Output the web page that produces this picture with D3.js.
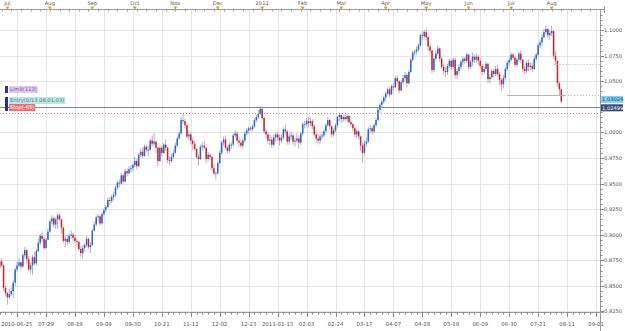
<!DOCTYPE html>
<html>
<head>
<meta charset="utf-8">
<script src="https://cdn.jsdelivr.net/npm/d3@7"></script>
<style>
  body { margin: 0; background: #fff; }
  text { font-family: "DejaVu Sans", sans-serif; }
</style>
</head>
<body>
<svg id="chart" width="625" height="331"></svg>
<script>
// AUD/USD style daily candles, prices in pips (1/10000)
const startDate = "2010-06-25";
const firstOpen = 8680;

const closes = [
  8740,
  8700, 8480, 8430, 8390, 8420,
  8450, 8530, 8660, 8700, 8730,
  8690, 8800, 8850, 8760, 8660,
  8700, 8780, 8720, 8840, 8920,
  8990, 8960, 8870, 8950, 9030,
  9130, 9160, 9100, 9150, 9190,
  9150, 9070, 8940, 8960, 8930,
  8990, 9000, 8970, 8940, 8930,
  8860, 8820, 8870, 8900, 8960,
  8880, 8900, 9040, 9100, 9170,
  9180, 9110, 9200, 9240, 9270,
  9340, 9330, 9370, 9390, 9460,
  9510, 9500, 9580, 9520, 9620,
  9600, 9640, 9650, 9680, 9720,
  9670, 9780, 9810, 9770, 9860,
  9830, 9830, 9920, 9890, 9910,
  9850, 9720, 9850, 9800, 9880,
  9850, 9730, 9720, 9760, 9800,
  9870, 9940, 9990, 10120, 10110,
  10070, 9960, 9980, 9920, 9890,
  9840, 9760, 9740, 9860, 9870,
  9850, 9740, 9780, 9760, 9650,
  9600, 9600, 9700, 9800, 9900,
  9930, 9850, 9820, 9880, 9880,
  9970, 9990, 9920, 9900, 9870,
  9920, 9990, 10020, 10040, 10030,
  10060, 10120, 10150, 10180, 10230,
  10140, 10010, 9980, 9920, 9930,
  9880, 9950, 9980, 9950, 9920,
  9950, 10030, 10010, 9910, 9960,
  9970, 9910, 9920, 9940, 9900,
  9990, 10080, 10080, 10110, 10090,
  10110, 10060, 9980, 9940, 9920,
  9960, 9970, 10010, 10070, 10120,
  10060, 9980, 10020, 10070, 10150,
  10170, 10130, 10150, 10130, 10160,
  10100, 10080, 10040, 9980, 10010,
  9960, 9870, 9800, 9890, 9910,
  10030, 10040, 10010, 10070, 10120,
  10220, 10270, 10300, 10340, 10380,
  10420, 10370, 10450, 10440, 10530,
  10500, 10410, 10490, 10530, 10560,
  10480, 10590, 10710, 10780, 10790,
  10810, 10850, 10950, 10940, 10980,
  10930, 10840, 10800, 10610, 10720,
  10770, 10820, 10720, 10640, 10600,
  10590, 10650, 10700, 10640, 10710,
  10560, 10600, 10640, 10690, 10720,
  10700, 10760, 10640, 10690, 10740,
  10710, 10740, 10700, 10650, 10590,
  10620, 10670, 10520, 10540, 10600,
  10570, 10620, 10570, 10510, 10470,
  10530, 10620, 10680, 10710, 10760,
  10730, 10660, 10710, 10770, 10710,
  10620, 10600, 10680, 10640, 10650,
  10620, 10720, 10760, 10850, 10880,
  10930, 10980, 11010, 10950, 10970,
  10990, 10750, 10700, 10480, 10420,
  10303
];

const highs = [
  8770,
  8770, 8710, 8500, 8440, 8470,
  8480, 8560, 8680, 8740, 8770,
  8740, 8820, 8880, 8860, 8790,
  8730, 8800, 8830, 8860, 8960,
  9010, 9030, 8980, 8970, 9060,
  9150, 9190, 9180, 9170, 9215,
  9210, 9160, 9080, 8990, 9000,
  9010, 9040, 9020, 9000, 8960,
  8940, 8890, 8900, 8920, 8990,
  8970, 8930, 9060, 9130, 9190,
  9200, 9190, 9220, 9260, 9290,
  9360, 9370, 9390, 9420, 9480,
  9530, 9540, 9600, 9600, 9640,
  9650, 9670, 9680, 9700, 9760,
  9740, 9800, 9840, 9850, 9880,
  9880, 9870, 9940, 9970, 9993,
  9920, 9860, 9870, 9870, 9900,
  9930, 9860, 9770, 9790, 9830,
  9900, 9960, 10010, 10150, 10181,
  10130, 10080, 10020, 10000, 9950,
  9910, 9850, 9790, 9880, 9900,
  9920, 9860, 9810, 9800, 9770,
  9690, 9620, 9720, 9820, 9920,
  9960, 9970, 9870, 9900, 9910,
  9990, 10020, 10010, 9950, 9930,
  9940, 10010, 10040, 10060, 10060,
  10080, 10140, 10170, 10220, 10255,
  10250, 10150, 10030, 10000, 9980,
  9960, 9980, 10000, 10010, 9980,
  9980, 10050, 10080, 10020, 9990,
  10010, 9990, 9950, 9990, 9970,
  10000, 10100, 10110, 10140, 10150,
  10140, 10130, 10080, 10010, 9980,
  9990, 10010, 10030, 10090, 10150,
  10130, 10070, 10040, 10090, 10160,
  10190, 10190, 10170, 10190, 10180,
  10170, 10120, 10090, 10060, 10030,
  10020, 9970, 9900, 9920, 9950,
  10050, 10070, 10060, 10090, 10140,
  10240, 10290, 10320, 10360, 10400,
  10440, 10440, 10470, 10480, 10550,
  10560, 10510, 10510, 10560, 10590,
  10580, 10610, 10730, 10800, 10810,
  10840, 10870, 10970, 10990, 11000,
  11012, 10950, 10870, 10810, 10750,
  10800, 10850, 10830, 10740, 10670,
  10640, 10670, 10720, 10710, 10730,
  10730, 10620, 10670, 10710, 10740,
  10740, 10780, 10770, 10710, 10780,
  10760, 10770, 10760, 10730, 10670,
  10650, 10690, 10680, 10570, 10620,
  10620, 10650, 10660, 10590, 10530,
  10560, 10640, 10700, 10730, 10780,
  10780, 10750, 10730, 10790, 10800,
  10720, 10650, 10700, 10710, 10680,
  10680, 10740, 10780, 10870, 10900,
  10960, 11010, 11040, 11020, 11000,
  11040, 11000, 10800, 10700, 10500,
  10440
];

const lows = [
  8670,
  8680, 8450, 8400, 8316, 8370,
  8400, 8380, 8500, 8640, 8680,
  8660, 8680, 8770, 8720, 8640,
  8620, 8610, 8700, 8700, 8830,
  8900, 8930, 8850, 8860, 8950,
  9020, 9100, 9070, 9060, 9060,
  9130, 9010, 8920, 8880, 8900,
  8910, 8960, 8940, 8920, 8880,
  8840, 8780, 8771, 8840, 8880,
  8860, 8820, 8890, 9030, 9090,
  9130, 9090, 9100, 9180, 9220,
  9260, 9290, 9310, 9340, 9370,
  9440, 9460, 9490, 9500, 9510,
  9570, 9590, 9610, 9620, 9660,
  9640, 9660, 9760, 9750, 9760,
  9810, 9770, 9820, 9860, 9870,
  9800, 9670, 9710, 9770, 9790,
  9820, 9700, 9680, 9700, 9740,
  9790, 9850, 9930, 9980, 10080,
  10040, 9940, 9920, 9880, 9830,
  9820, 9740, 9670, 9730, 9820,
  9830, 9700, 9720, 9730, 9620,
  9580, 9540, 9590, 9690, 9780,
  9870, 9830, 9790, 9800, 9840,
  9870, 9950, 9890, 9860, 9850,
  9840, 9900, 9970, 9990, 10010,
  10010, 10040, 10100, 10130, 10170,
  10120, 9990, 9940, 9890, 9870,
  9850, 9860, 9910, 9920, 9870,
  9900, 9930, 9980, 9880, 9880,
  9930, 9880, 9860, 9900, 9840,
  9880, 9970, 10040, 10060, 10050,
  10060, 10030, 9960, 9900, 9880,
  9890, 9930, 9950, 9990, 10060,
  10030, 9950, 9960, 10000, 10050,
  10110, 10090, 10100, 10110, 10100,
  10080, 10050, 10010, 9950, 9940,
  9930, 9820, 9706, 9780, 9860,
  9900, 9990, 9980, 9990, 10050,
  10110, 10190, 10240, 10280, 10310,
  10360, 10340, 10370, 10400, 10430,
  10470, 10380, 10400, 10470, 10500,
  10440, 10470, 10580, 10690, 10750,
  10760, 10790, 10840, 10900, 10920,
  10900, 10800, 10760, 10580, 10590,
  10700, 10750, 10690, 10620, 10570,
  10540, 10560, 10630, 10610, 10620,
  10530, 10520, 10570, 10610, 10660,
  10670, 10680, 10610, 10620, 10650,
  10680, 10680, 10660, 10620, 10560,
  10570, 10600, 10480, 10480, 10520,
  10530, 10550, 10540, 10460, 10400,
  10430, 10510, 10600, 10650, 10690,
  10710, 10640, 10640, 10690, 10680,
  10590, 10570, 10580, 10600, 10610,
  10590, 10610, 10700, 10740, 10820,
  10850, 10920, 10960, 10920, 10900,
  10940, 10720, 10660, 10450, 10360,
  10280
];

const monthLabels = ["Jul", "Aug", "Sep", "Oct", "Nov", "Dec", "2011", "Feb", "Mar", "Apr", "May", "Jun", "Jul", "Aug"];
const dateLabels = ["2010-06-25", "07-29", "08-19", "09-09", "09-30", "10-21", "11-11", "12-02", "12-23",
  "2011-01-13", "02-03", "02-24", "03-17", "04-07", "04-28", "05-19", "06-09", "06-30", "07-21", "08-11", "09-01"];
const priceTicks = [0.825, 0.85, 0.875, 0.9, 0.925, 0.95, 0.975, 1.0, 1.025, 1.05, 1.075, 1.1];

// order lines
const entryPrice = 1.02499;
const bidPrice = 1.03026;
const stopPrice = 1.0185;
const limitPrice = 1.0363;
const rangeHigh = 1.0667;
const orderTags = [
  {text: "Limit(113)", fill: "#dccbee", color: "#7d58a8", row: 0},
  {text: "Entry(0/13 08.01.03)", fill: "#bfe6e6", color: "#3f7f86", row: 1},
  {text: "Stop(-65)", fill: "#ec6f6f", color: "#fff", row: 2}
];

const W = 625, H = 331;
const plot = {left: 0, right: 600, top: 10, bottom: 312};
const nSlots = 312;

const svg = d3.select("#chart");

// trading day dates (weekdays)
let dates = [];
let d = new Date(startDate + "T00:00:00");
while (dates.length < nSlots) {
  if (d.getDay() !== 0 && d.getDay() !== 6) dates.push(new Date(d));
  d = d3.timeDay.offset(d, 1);
}

let candles = closes.map(function(c, i) {
  return {
    i: i,
    open: (i === 0 ? firstOpen : closes[i - 1]) / 10000,
    close: c / 10000,
    high: highs[i] / 10000,
    low: lows[i] / 10000
  };
});

let x = d3.scaleLinear().domain([0, 311]).range([-0.3, 599.9]);
let y = d3.scaleLinear().domain([0.8245, 1.1196]).range([plot.bottom, plot.top]);

// grid
let grid = svg.append("g").attr("class", "grid");
let gridIdx = dateLabels.map(function(t, k) { return 9 + 15 * k; });
grid.selectAll(".vg").data(gridIdx).enter().append("line")
  .attr("x1", function(i) { return Math.round(x(i)) + 0.5; })
  .attr("x2", function(i) { return Math.round(x(i)) + 0.5; })
  .attr("y1", plot.top).attr("y2", plot.bottom)
  .attr("stroke", "#e4e4e4");
grid.selectAll(".hg").data(priceTicks).enter().append("line")
  .attr("x1", plot.left).attr("x2", plot.right)
  .attr("y1", function(p) { return Math.round(y(p)) + 0.5; })
  .attr("y2", function(p) { return Math.round(y(p)) + 0.5; })
  .attr("stroke", "#e4e4e4");

// candles
let up = "#2f63c6", down = "#c2262c";
let cg = svg.append("g").attr("class", "candles");
let items = cg.selectAll(".candle").data(candles).enter().append("g").attr("class", "candle");
items.append("line")
  .attr("x1", function(c) { return x(c.i); })
  .attr("x2", function(c) { return x(c.i); })
  .attr("y1", function(c) { return y(c.high); })
  .attr("y2", function(c) { return y(c.low); })
  .attr("stroke", function(c) { return c.close >= c.open ? "#7c9de0" : "#e08a90"; })
  .attr("stroke-width", 0.8);
items.append("rect")
  .attr("x", function(c) { return x(c.i) - 0.75; })
  .attr("width", 1.5)
  .attr("y", function(c) { return y(Math.max(c.open, c.close)); })
  .attr("height", function(c) { return Math.max(0.8, Math.abs(y(c.open) - y(c.close))); })
  .attr("fill", function(c) { return c.close >= c.open ? up : down; });

// order / level lines
let lv = svg.append("g").attr("class", "levels");
lv.append("line").attr("x1", plot.left).attr("x2", plot.right)
  .attr("y1", Math.round(y(entryPrice)) + 0.5).attr("y2", Math.round(y(entryPrice)) + 0.5)
  .attr("stroke", "#7f88a2");
lv.append("line").attr("x1", plot.left).attr("x2", plot.right)
  .attr("y1", Math.round(y(stopPrice)) + 0.5).attr("y2", Math.round(y(stopPrice)) + 0.5)
  .attr("stroke", "#e07a7a").attr("stroke-dasharray", "1,2");
lv.append("line").attr("x1", x(263)).attr("x2", x(293))
  .attr("y1", Math.round(y(limitPrice)) + 0.5).attr("y2", Math.round(y(limitPrice)) + 0.5)
  .attr("stroke", "#b4b4b4");
lv.append("line").attr("x1", x(293)).attr("x2", plot.right)
  .attr("y1", Math.round(y(limitPrice)) + 0.5).attr("y2", Math.round(y(limitPrice)) + 0.5)
  .attr("stroke", "#b4b4b4").attr("stroke-dasharray", "1,2");
lv.append("line").attr("x1", x(287)).attr("x2", plot.right)
  .attr("y1", Math.round(y(rangeHigh)) + 0.5).attr("y2", Math.round(y(rangeHigh)) + 0.5)
  .attr("stroke", "#b4b4b4").attr("stroke-dasharray", "1,2");

// order tags on the left
let tags = svg.append("g").attr("class", "tags");
tags.append("rect").attr("x", 5).attr("y", 86).attr("width", 3).attr("height", 7).attr("fill", "#2c2f8f");
tags.append("rect").attr("x", 5).attr("y", 97).attr("width", 3).attr("height", 14).attr("fill", "#2c2f8f");
let tagRows = [86, 97, 104];
let tag = tags.selectAll(".tag").data(orderTags).enter().append("g").attr("class", "tag");
tag.append("rect")
  .attr("x", 9).attr("y", function(t) { return tagRows[t.row]; })
  .attr("height", 7)
  .attr("fill", function(t) { return t.fill; });
tag.append("text")
  .attr("x", 10).attr("y", function(t) { return tagRows[t.row] + 5.3; })
  .attr("font-size", 5.2)
  .attr("fill", function(t) { return t.color; })
  .text(function(t) { return t.text; });
tag.each(function() {
  let g = d3.select(this);
  let w = g.select("text").node().getComputedTextLength();
  g.select("rect").attr("width", w + 2);
});

// top axis (months)
let topAxis = svg.append("g").attr("class", "top-axis");
topAxis.append("line").attr("x1", 0).attr("x2", 604).attr("y1", 9.5).attr("y2", 9.5).attr("stroke", "#9a9a9a");
topAxis.append("line").attr("x1", 604.5).attr("x2", 604.5).attr("y1", 6).attr("y2", 13).attr("stroke", "#9a9a9a");
let mondays = dates.map(function(dt, i) { return {dt: dt, i: i}; }).filter(function(o) { return o.dt.getDay() === 1; });
topAxis.selectAll(".wk").data(mondays).enter().append("line")
  .attr("x1", function(o) { return Math.round(x(o.i)) + 0.5; })
  .attr("x2", function(o) { return Math.round(x(o.i)) + 0.5; })
  .attr("y1", 9.5).attr("y2", 11.5).attr("stroke", "#9a9a9a");
let monthStarts = [];
dates.forEach(function(dt, i) {
  if (i === 0) return;
  if (dt.getMonth() !== dates[i - 1].getMonth()) monthStarts.push(i);
});
monthStarts = monthStarts.slice(0, monthLabels.length);
let mm = topAxis.selectAll(".month").data(monthStarts).enter().append("g").attr("class", "month");
mm.append("path")
  .attr("d", function(i) { let cx = x(i); return "M" + (cx - 2) + ",6.5L" + (cx + 2) + ",6.5L" + cx + ",10Z"; })
  .attr("fill", "#e3a21a");
mm.append("text")
  .attr("x", function(i) { return x(i); }).attr("y", 5)
  .attr("text-anchor", "middle").attr("font-size", 5.2).attr("fill", "#555")
  .text(function(i, k) { return monthLabels[k]; });

// bottom axis (dates)
let bot = svg.append("g").attr("class", "bottom-axis");
bot.append("line").attr("x1", 0).attr("x2", 604).attr("y1", plot.bottom + 0.5).attr("y2", plot.bottom + 0.5).attr("stroke", "#9a9a9a");
let minor = d3.range(0, nSlots, 3);
bot.selectAll(".mt").data(minor).enter().append("line")
  .attr("x1", function(i) { return Math.round(x(i)) + 0.5; })
  .attr("x2", function(i) { return Math.round(x(i)) + 0.5; })
  .attr("y1", plot.bottom).attr("y2", function(i) { return (i - 9) % 15 === 0 ? plot.bottom + 5 : plot.bottom + 2.5; })
  .attr("stroke", "#8a8a8a");
bot.selectAll(".dl").data(dateLabels).enter().append("text")
  .attr("x", function(t, k) { return k === 0 ? 1 : x(gridIdx[k]); })
  .attr("y", 326)
  .attr("text-anchor", function(t, k) { return k === 0 ? "start" : "middle"; })
  .attr("font-size", 5.4).attr("fill", "#555")
  .text(function(t) { return t; });

// right axis (prices)
let ra = svg.append("g").attr("class", "right-axis");
ra.append("line").attr("x1", plot.right + 0.5).attr("x2", plot.right + 0.5).attr("y1", plot.top).attr("y2", H).attr("stroke", "#9a9a9a");
let minorP = d3.range(0, 60).map(function(k) { return 0.825 + k * 0.005; }).filter(function(p) { return y(p) > plot.top; });
ra.selectAll(".pt").data(minorP).enter().append("line")
  .attr("x1", plot.right).attr("x2", function(p, k) { return k % 5 === 0 ? plot.right + 4 : plot.right + 2.5; })
  .attr("y1", function(p) { return Math.round(y(p)) + 0.5; })
  .attr("y2", function(p) { return Math.round(y(p)) + 0.5; })
  .attr("stroke", "#8a8a8a");

// current price boxes, nudged apart so they stack like the reference
let boxes = [
  {p: bidPrice, shift: -2, fill: "#84d2f2", color: "#1c3d6b"},
  {p: entryPrice, shift: 1, fill: "#3c4872", color: "#fff"}
];

// tick labels hidden where a price box sits on them
let fmt = function(p) { return p.toFixed(4).replace(".", ","); };
let labelTicks = priceTicks.filter(function(p) {
  return boxes.every(function(b) { return Math.abs(y(p) - (y(b.p) + b.shift)) > 6; });
});
ra.selectAll(".pl").data(labelTicks).enter().append("text")
  .attr("x", plot.right + 4).attr("y", function(p) { return y(p) + 2; })
  .attr("font-size", 5.2).attr("fill", "#555")
  .text(fmt);

let bx = ra.selectAll(".pbox").data(boxes).enter().append("g");
bx.append("rect")
  .attr("x", plot.right + 1).attr("y", function(b) { return y(b.p) + b.shift - 3.5; })
  .attr("width", 22).attr("height", 7)
  .attr("fill", function(b) { return b.fill; });
bx.append("text")
  .attr("x", plot.right + 2).attr("y", function(b) { return y(b.p) + b.shift + 2; })
  .attr("font-size", 5.2).attr("fill", function(b) { return b.color; })
  .text(function(b) { return b.p.toFixed(5).replace(".", ","); });
</script>
</body>
</html>
